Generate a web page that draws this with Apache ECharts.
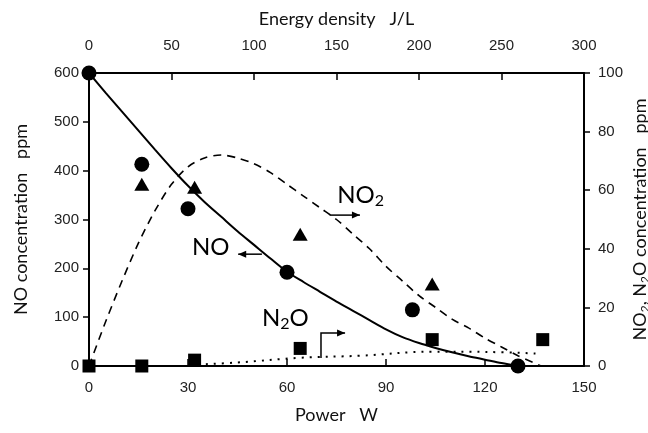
<!DOCTYPE html>
<html>
<head>
<meta charset="utf-8">
<script src="https://cdn.jsdelivr.net/npm/echarts@6/dist/echarts.min.js"></script>
<style>
  html, body { margin: 0; padding: 0; background: #fff; }
  #main { width: 648px; height: 433px; }
</style>
</head>
<body>
<div id="main"></div>
<script>
// measured points (power W, concentration ppm)
var noPoints = [[0, 600], [16, 413], [30, 322], [60, 192], [98, 115], [130, 0]]
var no2Points = [[16, 62], [32, 61], [64, 45], [104, 28]]
var n2oPoints = [[0, 0], [16, 0], [32, 2], [64, 6], [104, 9], [137.5, 9]]

// fitted curves
var noCurveX = [0, 5, 10, 15, 20, 25, 30, 35, 40, 45, 50, 55, 60, 65, 70, 75, 80, 85, 90, 95, 100, 105, 110, 115, 120, 125, 130]
var noCurveY = [600, 560, 521, 482, 443, 405, 369, 336, 306, 276, 248, 220, 193, 172, 152, 132, 113, 94, 75, 59, 47, 37, 28, 20, 13, 6, 0]
var no2CurveX = [0, 5, 10, 15, 20, 25, 30, 35, 40, 45, 50, 55, 60, 65, 70, 75, 80, 85, 90, 95, 100, 105, 110, 115, 120, 125, 130, 137]
var no2CurveY = [0, 15, 29, 42, 53, 62, 68, 71, 72, 71, 69, 66, 62, 58, 54, 50, 45, 40, 34, 29, 24, 20, 16, 13, 9.5, 6.5, 3.5, 0]
var n2oCurveX = [33, 45, 64, 82, 104, 120, 137]
var n2oCurveY = [0.5, 1.2, 2.8, 3.5, 4.9, 4.8, 4.2]

var powerTicks = [0, 30, 60, 90, 120, 150]
var energyTicks = [0, 50, 100, 150, 200, 250, 300]

function pairs(xs, ys) {
  return xs.map(function (x, i) { return [x, ys[i]] })
}

var labelFont = { color: '#222', fontSize: 15, fontFamily: 'Liberation Sans' }
var titleFont = { color: '#111', fontSize: 18, fontFamily: 'Lato' }

var chart = echarts.init(document.getElementById('main'))
var option = {
  backgroundColor: '#fff',
  animation: false,
  grid: { left: 89, right: 64, top: 73, bottom: 67, outerBoundsMode: 'none', containLabel: false },
  xAxis: [{
    type: 'value',
    position: 'bottom',
    min: powerTicks[0],
    max: powerTicks[powerTicks.length - 1],
    interval: 30,
    name: 'Power   W',
    nameLocation: 'middle',
    nameGap: 40,
    nameMoveOverlap: false,
    nameTextStyle: titleFont,
    axisLine: { show: true, onZero: false, lineStyle: { color: '#000', width: 2 } },
    axisTick: { show: true, inside: true, length: 7, lineStyle: { color: '#000', width: 1.5 } },
    axisLabel: Object.assign({ margin: 14 }, labelFont),
    splitLine: { show: false }
  }, {
    type: 'value',
    position: 'top',
    min: energyTicks[0],
    max: energyTicks[energyTicks.length - 1],
    interval: 50,
    name: 'Energy density   J/L',
    nameLocation: 'middle',
    nameGap: 45,
    nameMoveOverlap: false,
    nameTextStyle: titleFont,
    axisLine: { show: true, onZero: false, lineStyle: { color: '#000', width: 2 } },
    axisTick: { show: true, inside: true, length: 7, lineStyle: { color: '#000', width: 1.5 } },
    axisLabel: Object.assign({ margin: 20 }, labelFont),
    splitLine: { show: false }
  }],
  yAxis: [{
    type: 'value',
    position: 'left',
    min: 0,
    max: 600,
    interval: 100,
    name: 'NO concentration   ppm',
    nameLocation: 'middle',
    nameGap: 59,
    nameMoveOverlap: false,
    nameTextStyle: titleFont,
    axisLine: { show: true, onZero: false, lineStyle: { color: '#000', width: 2 } },
    axisTick: { show: true, inside: false, length: 6, lineStyle: { color: '#000', width: 1.5 } },
    axisLabel: Object.assign({ margin: 10 }, labelFont),
    splitLine: { show: false }
  }, {
    type: 'value',
    position: 'right',
    min: 0,
    max: 100,
    interval: 20,
    name: 'NO{sub|2}, N{sub|2}O concentration   ppm',
    nameLocation: 'middle',
    nameGap: 46,
    nameMoveOverlap: false,
    nameTextStyle: Object.assign({
      rich: {
        sub: { fontSize: 12, fontFamily: 'Lato', color: '#111', padding: [9, 0, 0, 0] }
      }
    }, titleFont),
    axisLine: { show: true, onZero: false, lineStyle: { color: '#000', width: 2 } },
    axisTick: { show: true, inside: false, length: 6, lineStyle: { color: '#000', width: 1.5 } },
    axisLabel: Object.assign({ margin: 14 }, labelFont),
    splitLine: { show: false }
  }],
  series: [
    {
      name: 'NO curve',
      type: 'line',
      xAxisIndex: 0,
      yAxisIndex: 0,
      smooth: 0.3,
      showSymbol: false,
      lineStyle: { color: '#000', width: 2 },
      data: pairs(noCurveX, noCurveY)
    },
    {
      name: 'NO2 curve',
      type: 'line',
      xAxisIndex: 0,
      yAxisIndex: 1,
      smooth: 0.3,
      showSymbol: false,
      lineStyle: { color: '#000', width: 1.6, type: [8, 6] },
      data: pairs(no2CurveX, no2CurveY)
    },
    {
      name: 'N2O curve',
      type: 'line',
      xAxisIndex: 0,
      yAxisIndex: 1,
      smooth: 0.4,
      showSymbol: false,
      lineStyle: { color: '#000', width: 2, type: [2, 6] },
      data: pairs(n2oCurveX, n2oCurveY)
    },
    {
      name: 'NO',
      type: 'scatter',
      xAxisIndex: 0,
      yAxisIndex: 0,
      clip: false,
      symbol: 'circle',
      symbolSize: 15,
      itemStyle: { color: '#000', opacity: 1 },
      data: noPoints
    },
    {
      name: 'NO2',
      type: 'scatter',
      xAxisIndex: 0,
      yAxisIndex: 1,
      clip: false,
      symbol: 'triangle',
      symbolSize: [15, 13],
      itemStyle: { color: '#000', opacity: 1 },
      data: no2Points
    },
    {
      name: 'N2O',
      type: 'scatter',
      xAxisIndex: 0,
      yAxisIndex: 1,
      clip: false,
      symbol: 'rect',
      symbolSize: 13,
      itemStyle: { color: '#000', opacity: 1 },
      data: n2oPoints
    }
  ]
}
chart.setOption(option)

// annotations, placed in power / NO-ppm coordinates
function px(p) {
  return chart.convertToPixel({ xAxisIndex: 0, yAxisIndex: 0 }, p)
}
var annoFont = { fontSize: 24, fontFamily: 'Lato', fill: '#000' }
var subRich = { sub: { fontSize: 16, fontFamily: 'Lato', padding: [12, 0, 0, 0] } }

function label(text, p) {
  var q = px(p)
  return {
    type: 'text',
    x: q[0], y: q[1],
    style: Object.assign({ text: text, verticalAlign: 'middle', rich: subRich }, annoFont)
  }
}
function arrow(points) {
  var pts = points.map(px)
  var n = pts.length
  var a = pts[n - 2], b = pts[n - 1]
  var ang = Math.atan2(b[1] - a[1], b[0] - a[0])
  var L = 8, W = 3.5
  var head = [
    b,
    [b[0] - L * Math.cos(ang) + W * Math.sin(ang), b[1] - L * Math.sin(ang) - W * Math.cos(ang)],
    [b[0] - L * Math.cos(ang) - W * Math.sin(ang), b[1] - L * Math.sin(ang) + W * Math.cos(ang)]
  ]
  return [
    { type: 'polyline', shape: { points: pts }, style: { stroke: '#000', lineWidth: 1.5, fill: null } },
    { type: 'polygon', shape: { points: head }, style: { fill: '#000' } }
  ]
}

var elements = [
  label('NO', [31.2, 244]),
  label('NO{sub|2}', [75.2, 350]),
  label('N{sub|2}O', [52.4, 98])
].concat(arrow([[52.4, 229], [45.2, 229]]))
 .concat(arrow([[73, 309], [82.1, 309]]))
 .concat(arrow([[70.3, 16.4], [70.3, 67.6], [77.6, 67.6]]))

chart.setOption({ graphic: { elements: elements } })
</script>
</body>
</html>
